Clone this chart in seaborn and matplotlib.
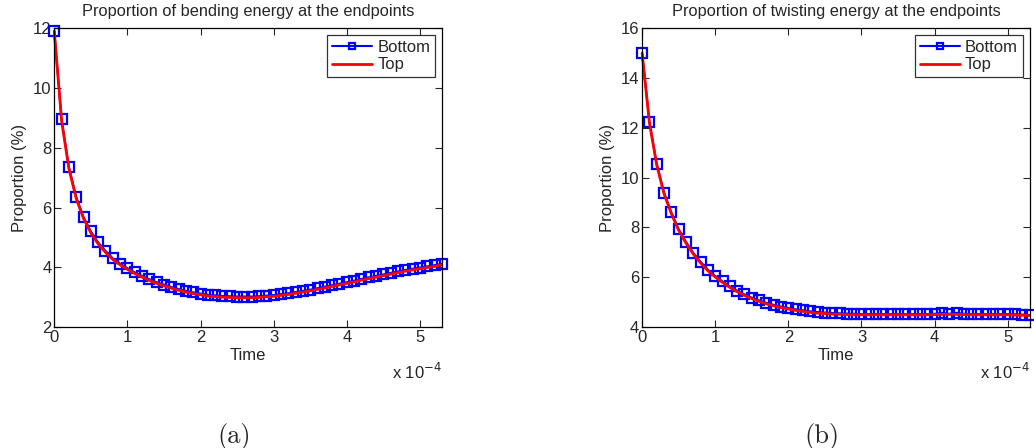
import numpy as np
import seaborn as sns
import matplotlib.pyplot as plt
from matplotlib.ticker import FuncFormatter

# tempo (s), un campione ogni 1e-5
time = np.arange(54) * 1e-5

bend_bottom = [11.9, 8.95, 7.35, 6.35, 5.68, 5.2, 4.83, 4.55, 4.3, 4.12,
               3.97, 3.83, 3.71, 3.6, 3.5, 3.42, 3.34, 3.27, 3.21, 3.16,
               3.12, 3.08, 3.06, 3.04, 3.03, 3.02, 3.02, 3.02, 3.03, 3.05,
               3.07, 3.1, 3.13, 3.17, 3.21, 3.25, 3.3, 3.35, 3.4, 3.45,
               3.5, 3.55, 3.61, 3.66, 3.71, 3.76, 3.81, 3.86, 3.91, 3.95,
               3.99, 4.03, 4.07, 4.11]
bend_top = [11.9, 8.9, 7.3, 6.3, 5.63, 5.15, 4.78, 4.5, 4.26, 4.08,
            3.93, 3.79, 3.67, 3.56, 3.46, 3.38, 3.3, 3.23, 3.17, 3.12,
            3.08, 3.04, 3.02, 3.0, 2.99, 2.98, 2.98, 2.98, 2.99, 3.01,
            3.03, 3.06, 3.09, 3.13, 3.17, 3.21, 3.26, 3.31, 3.36, 3.41,
            3.46, 3.51, 3.57, 3.62, 3.67, 3.72, 3.77, 3.82, 3.87, 3.91,
            3.95, 3.99, 4.03, 4.08]

twist_bottom = [15.0, 12.25, 10.55, 9.4, 8.6, 7.93, 7.42, 6.98, 6.62, 6.3,
                6.05, 5.83, 5.63, 5.46, 5.31, 5.18, 5.07, 4.97, 4.89, 4.82,
                4.76, 4.71, 4.67, 4.63, 4.6, 4.58, 4.56, 4.55, 4.54, 4.53,
                4.52, 4.52, 4.52, 4.52, 4.52, 4.52, 4.52, 4.52, 4.52, 4.52,
                4.53, 4.57, 4.53, 4.57, 4.53, 4.52, 4.52, 4.52, 4.52, 4.52,
                4.52, 4.51, 4.5, 4.48]
twist_top = [15.0, 12.2, 10.5, 9.35, 8.55, 7.88, 7.37, 6.93, 6.57, 6.26,
             6.01, 5.79, 5.59, 5.42, 5.27, 5.14, 5.03, 4.93, 4.85, 4.78,
             4.72, 4.67, 4.63, 4.59, 4.56, 4.54, 4.52, 4.51, 4.5, 4.49,
             4.49, 4.49, 4.49, 4.49, 4.49, 4.49, 4.49, 4.49, 4.49, 4.49,
             4.5, 4.51, 4.51, 4.51, 4.5, 4.49, 4.49, 4.49, 4.49, 4.49,
             4.49, 4.48, 4.47, 4.46]

sns.set_style('ticks')
plt.rcParams['font.family'] = ['Liberation Sans', 'DejaVu Sans']

fig = plt.figure(figsize=(10.34, 4.48), dpi=100)
ax1 = fig.add_axes([0.0525, 0.270, 0.3748, 0.667])
ax2 = fig.add_axes([0.621, 0.270, 0.3748, 0.667])

pannelli = [
    (ax1, bend_bottom, bend_top, 'Proportion of bending energy at the endpoints', (2, 12), [2, 4, 6, 8, 10, 12], '(a)'),
    (ax2, twist_bottom, twist_top, 'Proportion of twisting energy at the endpoints', (4, 16), [4, 6, 8, 10, 12, 14, 16], '(b)'),
]

for ax, bottom, top, titolo, ylim, yticks, lettera in pannelli:
    sns.lineplot(x=time, y=bottom, ax=ax, color='blue', marker='s', markersize=6.5,
                 markerfacecolor='none', markeredgecolor='blue', markeredgewidth=1.6,
                 linewidth=1.5, label='Bottom', clip_on=False, zorder=3)
    sns.lineplot(x=time, y=top, ax=ax, color='red', linewidth=2, label='Top',
                 clip_on=False, zorder=4)
    ax.set_xlim(0, 5.3e-4)
    ax.set_ylim(*ylim)
    ax.set_xticks(np.arange(6) * 1e-4)
    ax.set_yticks(yticks)
    ax.xaxis.set_major_formatter(FuncFormatter(lambda v, p: f'{v * 1e4:g}'))
    ax.tick_params(direction='in', top=True, right=True, labelsize=12, length=5, width=0.8, pad=2)
    for s in ax.spines.values():
        s.set_visible(True)
        s.set_linewidth(0.9)
        s.set_color('black')
        s.set_zorder(5)
    ax.set_title(titolo, fontsize=11.8, pad=9)
    ax.set_xlabel('Time', fontsize=12, labelpad=2)
    ax.set_ylabel('Proportion (%)', fontsize=12, labelpad=4)
    ax.text(1.0, -0.118, r'x 10$^{-4}$', transform=ax.transAxes, ha='right', va='top', fontsize=12)
    ax.text(0.465, -0.365, lettera, transform=ax.transAxes, ha='center', va='center',
            fontsize=19, family='cmr10')
    leg = ax.legend(loc='upper right', fontsize=12, frameon=True, fancybox=False,
                    handlelength=2.4, borderpad=0.3, labelspacing=0.15, handletextpad=0.3,
                    borderaxespad=0.4, markerscale=0.75)
    leg.get_frame().set_edgecolor('black')
    leg.get_frame().set_linewidth(0.9)
    leg.set_zorder(6)

fig.savefig('out.png', dpi=100)
